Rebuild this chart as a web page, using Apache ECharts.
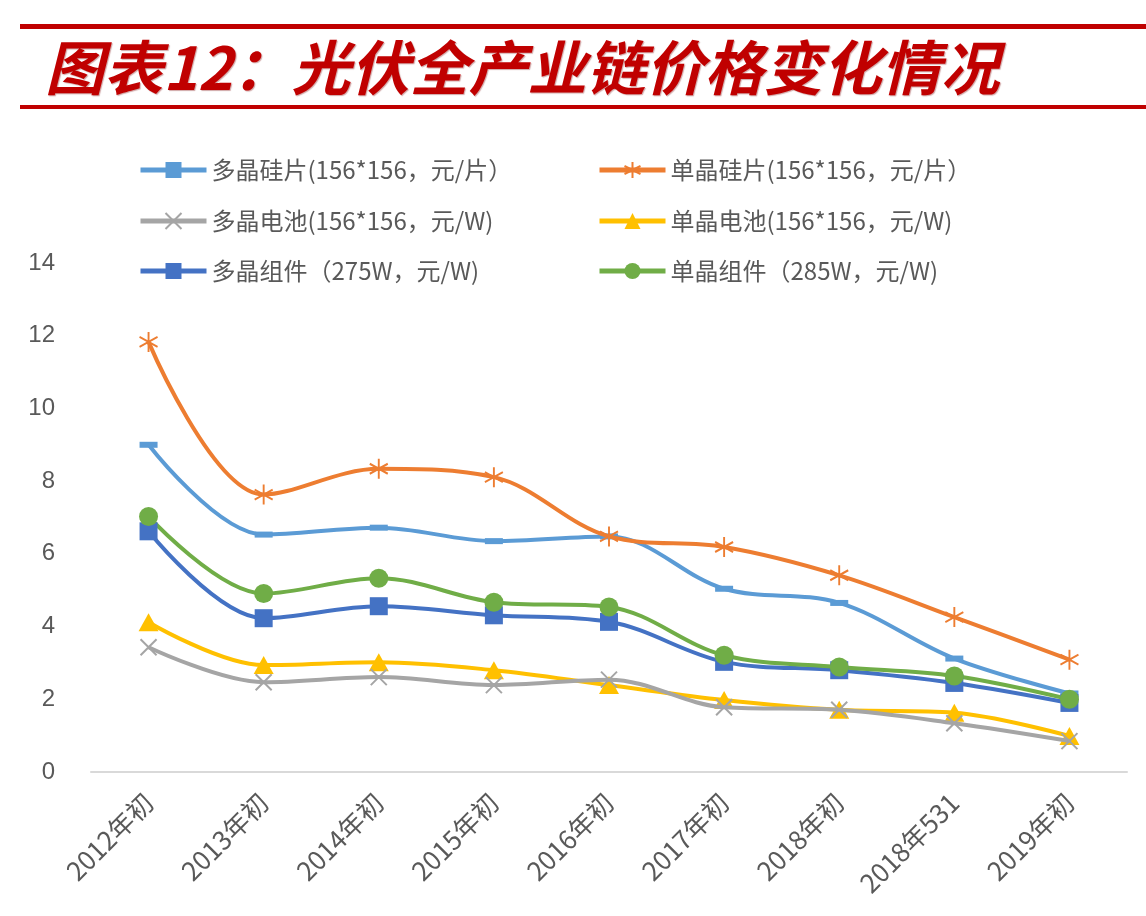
<!DOCTYPE html>
<html lang="zh">
<head>
<meta charset="UTF-8">
<title>光伏全产业链价格变化情况</title>
<script src="https://cdn.jsdelivr.net/npm/echarts@6/dist/echarts.min.js"></script>
<style>
  html, body { margin: 0; padding: 0; background: #fff; }
  #main { width: 1146px; height: 916px; }
</style>
</head>
<body>
<div id="main"></div>
<script>
// 数据
var categories = ['2012年初', '2013年初', '2014年初', '2015年初', '2016年初', '2017年初', '2018年初', '2018年531', '2019年初'];
var polyWafer = [9.0, 6.53, 6.72, 6.35, 6.48, 5.04, 4.65, 3.12, 2.16];
var monoWafer = [11.83, 7.63, 8.34, 8.11, 6.48, 6.19, 5.41, 4.26, 3.09];
var polyCell = [3.43, 2.47, 2.61, 2.39, 2.54, 1.78, 1.71, 1.34, 0.85];
var monoCell = [4.12, 2.94, 3.02, 2.8, 2.39, 1.98, 1.71, 1.63, 0.99];
var polyModule = [6.62, 4.23, 4.56, 4.31, 4.13, 3.03, 2.8, 2.45, 1.9];
var monoModule = [7.03, 4.91, 5.33, 4.67, 4.54, 3.21, 2.89, 2.64, 2.0];
var yTicks = [0, 2, 4, 6, 8, 10, 12, 14];

var names = [
    '多晶硅片(156*156，元/片）',
    '单晶硅片(156*156，元/片）',
    '多晶电池(156*156，元/W)',
    '单晶电池(156*156，元/W)',
    '多晶组件（275W，元/W)',
    '单晶组件（285W，元/W)'
];

var chart = echarts.init(document.getElementById('main'));

var font = '"Noto Sans CJK SC", "Liberation Sans", sans-serif';
var asterisk = 'path://M0,-10L0,10M-8.7,-5L8.7,5M-8.7,5L8.7,-5';
var cross = 'path://M-8,-8L8,8M-8,8L8,-8';

function makeSeries(name, data, color, symbol, size, stroke) {
    return {
        name: name,
        type: 'line',
        data: data,
        smooth: 0.35,
        symbol: symbol,
        symbolSize: size,
        z: stroke ? 3 : 2,
        lineStyle: { color: color, width: 4 },
        itemStyle: {
            color: stroke ? 'none' : color,
            borderColor: color,
            borderWidth: stroke ? 2 : 0
        }
    };
}

var series = [
    makeSeries(names[0], polyWafer, '#5B9BD5', 'rect', [18, 6], false),
    makeSeries(names[1], monoWafer, '#ED7D31', asterisk, [18, 20], true),
    makeSeries(names[2], polyCell, '#A5A5A5', cross, [16, 16], true),
    makeSeries(names[3], monoCell, '#FFC000', 'triangle', [20, 18], false),
    makeSeries(names[4], polyModule, '#4472C4', 'rect', [18, 18], false),
    makeSeries(names[5], monoModule, '#70AD47', 'circle', [19, 19], false)
];

// 六个图例分别定位，排成三行两列
var legendLeft = [133, 592];
var legendTop = [153, 204, 254];
var legends = [];
for (var i = 0; i < names.length; i++) {
    legends.push({
        data: [names[i]],
        left: legendLeft[i % 2],
        top: legendTop[Math.floor(i / 2)],
        itemWidth: 66,
        itemHeight: 20,
        itemGap: 8,
        lineStyle: { width: 5 },
        textStyle: { fontSize: 24, color: '#595959', fontFamily: font }
    });
}

var option = {
    backgroundColor: '#fff',
    animation: false,
    legend: legends,
    grid: { left: 91, right: 19, top: 263, bottom: 144 },
    xAxis: {
        type: 'category',
        data: categories,
        boundaryGap: true,
        axisLine: { lineStyle: { color: '#D9D9D9', width: 2 } },
        axisTick: { length: 9, lineStyle: { color: '#D9D9D9', width: 2 } },
        axisLabel: {
            rotate: 45,
            interval: 0,
            margin: 26,
            fontSize: 26,
            color: '#595959',
            fontFamily: font
        }
    },
    yAxis: {
        type: 'value',
        min: yTicks[0],
        max: yTicks[yTicks.length - 1],
        interval: 2,
        axisLine: { show: false },
        axisTick: { show: false },
        splitLine: { show: false },
        axisLabel: { fontSize: 24, color: '#595959', margin: 36, fontFamily: '"Liberation Sans", sans-serif' }
    },
    graphic: [
        { type: 'rect', left: 20, top: 24, shape: { width: 1126, height: 5 }, style: { fill: '#C00000' } },
        { type: 'rect', left: 20, top: 105, shape: { width: 1126, height: 4 }, style: { fill: '#C00000' } },
        {
            type: 'text',
            left: 45,
            top: 38,
            style: {
                text: '图表12：光伏全产业链价格变化情况',
                fill: '#C00000',
                font: 'italic bold 59px "Noto Sans CJK SC", sans-serif',
                textShadowColor: 'rgba(120,0,0,0.35)',
                textShadowOffsetX: 1,
                textShadowOffsetY: 1,
                textShadowBlur: 1
            }
        }
    ],
    series: series
};

chart.setOption(option);
</script>
</body>
</html>
